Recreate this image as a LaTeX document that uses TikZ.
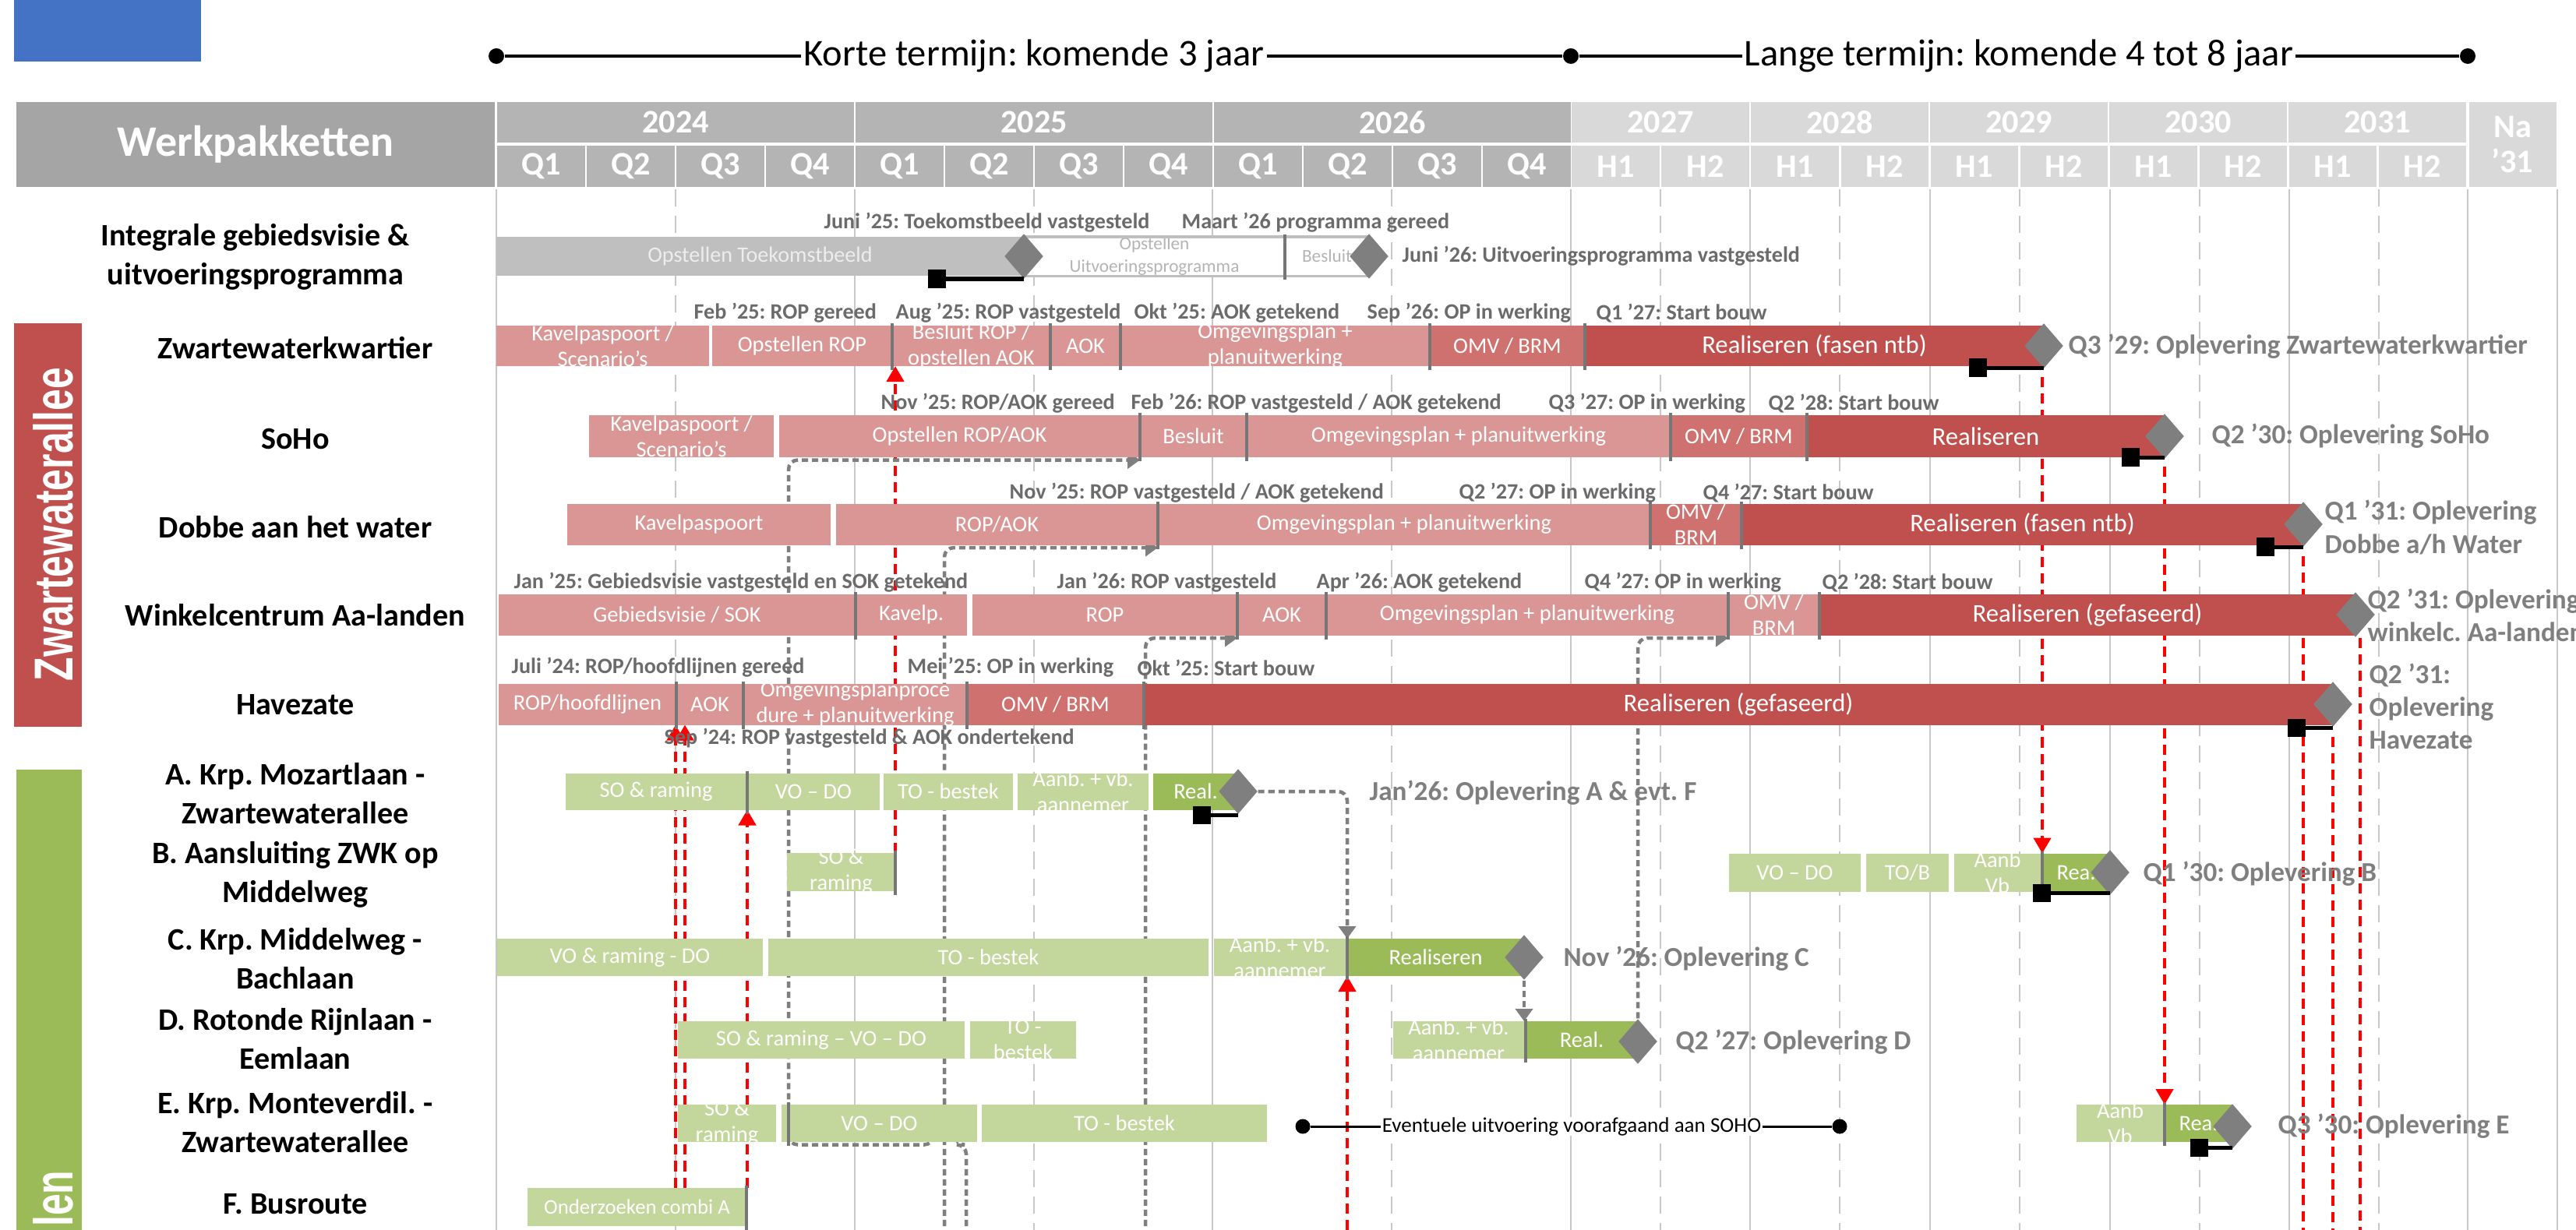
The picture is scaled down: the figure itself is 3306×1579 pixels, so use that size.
\documentclass[tikz,border=0pt]{standalone}
\usepackage{fontspec}
\setmainfont{Carlito}
\newfontfamily\sidefont{Liberation Sans}
\usetikzlibrary{shapes.geometric,arrows.meta}
\frenchspacing

\definecolor{blu}{HTML}{4472C4}
\definecolor{wpgray}{HTML}{A5A5A5}
\definecolor{hdrdark}{HTML}{B4B4B4}
\definecolor{hdrlight}{HTML}{D9D9D9}
\definecolor{gridgray}{HTML}{C8C8C8}
\definecolor{barGray}{HTML}{BFBFBF}
\definecolor{txtlight}{HTML}{EDEDED}
\definecolor{pinkL}{HTML}{DA9694}
\definecolor{pinkM}{HTML}{CF716E}
\definecolor{redD}{HTML}{C0504D}
\definecolor{grnL}{HTML}{C3D69B}
\definecolor{grnD}{HTML}{9BBB59}
\definecolor{msgray}{HTML}{7F7F7F}
\definecolor{labgray}{HTML}{6B6B6B}
\definecolor{divgray}{HTML}{767676}

\pgfdeclarelayer{grid}
\pgfdeclarelayer{links}
\pgfsetlayers{grid,links,main}

\tikzset{
  segbox/.style={rectangle, inner sep=0pt, outer sep=0pt},
  segtxt/.style={inner sep=0pt, text=white, align=center, font=\fontsize{8.1}{9.4}\selectfont},
  bigtxt/.style={font=\fontsize{9.3}{10}\selectfont},
  hdrbox/.style={rectangle, inner sep=0pt, text=white, align=center, font=\bfseries\fontsize{12}{13}\selectfont},
  toptxt/.style={fill=white, inner xsep=0.03cm, inner ysep=0pt, font=\fontsize{13.8}{14}\selectfont},
  rowlab/.style={align=center, inner sep=0pt, font=\bfseries\fontsize{11.4}{14.2}\selectfont},
  mslab/.style={anchor=west, inner sep=0pt, text=labgray, font=\bfseries\fontsize{8}{9}\selectfont},
  oplev/.style={anchor=west, inner sep=0pt, align=left, text=msgray, font=\bfseries\fontsize{10}{12}\selectfont},
  evtxt/.style={fill=white, inner xsep=0.02cm, inner ysep=0pt, font=\fontsize{7.7}{8}\selectfont},
  msdia/.style={diamond, fill=msgray, inner sep=0pt, minimum width=0.5cm, minimum height=0.58cm},
  basesq/.style={rectangle, fill=black, inner sep=0pt, minimum size=0.23cm},
  baseln/.style={black, line width=0.05cm},
  tdot/.style={circle, fill=black, inner sep=0pt, minimum size=0.2cm},
  divln/.style={draw=divgray, line width=0.04cm, shorten <=-0.03cm, shorten >=-0.05cm},
  gridln/.style={gridgray, line width=0.025cm},
  redln/.style={red, line width=0.045cm, dash pattern=on 0.13cm off 0.08cm},
  conn/.style={msgray, line width=0.045cm, dash pattern=on 0.08cm off 0.05cm, rounded corners=0.12cm},
  redtip/.style={-{Triangle[length=0.2cm,width=0.22cm]}},
  conntip/.style={-{Triangle[length=0.16cm,width=0.22cm]}},
  sidelab/.style={text=white, inner sep=0pt, font=\sidefont\bfseries\fontsize{20}{20}\selectfont, rotate=90, xscale=0.71},
}

% bar segment: [text opts]{name}{x1}{x2}{y}{height}{fill}{text}
\newcommand\wpseg[8][]{%
  \node[segbox, fill=#7, minimum width={(#4-#3)*0.01cm}, minimum height={#6*0.01cm}] (#2) at ({(#3+#4)/2},#5) {};
  \node[segtxt, #1] (#2t) at (#2.center) {#8};}

\begin{document}
\begin{tikzpicture}[x=0.01cm, y=-0.01cm]
\useasboundingbox (0,0) rectangle (3306,1579);

% top timeline
\fill[blu] (18,0) rectangle (258,79);
\node[tdot] (t0) at (637,72) {};
\node[tdot] (t1) at (2016,72) {};
\node[tdot] (t2) at (3167,72) {};
\draw[line width=0.035cm] (t0) -- (t1) -- (t2);
\node[toptxt] (kort) at (1327,72) {Korte termijn: komende 3 jaar};
\node[toptxt] (lang) at (2591,72) {Lange termijn: komende 4 tot 8 jaar};

% header
\node[hdrbox, fill=wpgray, minimum width=6.14cm, minimum height=1.09cm, font=\bfseries\fontsize{15.9}{16}\selectfont] (wp) at (328,185.5) {Werkpakketten};
\foreach \yr [count=\i from 0] in {2024,2025,2026}{
  \node[hdrbox, fill=hdrdark, minimum width=4.57cm, minimum height=0.52cm] (y\yr) at ({867+460*\i},157) {\yr};
  \foreach \q in {1,...,4}
    \node[hdrbox, fill=hdrdark, minimum width=1.12cm, minimum height=0.53cm] (q\yr\q) at ({637+460*\i+115*\q-57.5},213.5) {Q\q};
}
\foreach \yr [count=\i from 0] in {2027,...,2031}{
  \node[hdrbox, fill=hdrlight, minimum width=2.27cm, minimum height=0.52cm] (y\yr) at ({2131+230*\i},157) {\yr};
  \foreach \h in {1,2}
    \node[hdrbox, fill=hdrlight, minimum width=1.12cm, minimum height=0.53cm] (h\yr\h) at ({2016+230*\i+115*\h-57.5},213.5) {H\h};
}
\node[hdrbox, fill=hdrlight, minimum width=1.12cm, minimum height=1.09cm] (na) at (3224.5,185.5) {Na\\'31};

% side boxes
\fill[redD] (18,415) rectangle (105,933);
\begin{scope}[shift={(68,673)}]
  \node[sidelab] (zwlab) at (0,0) {Zwartewaterallee};
\end{scope}
\fill[grnD] (21,988) rectangle (105,1600);
\begin{scope}[shift={(68,1502)}]
  \node[sidelab, anchor=east] (wglab) at (0,0) {len};
\end{scope}

% row labels
\node[rowlab] (r0) at (328,330) {Integrale gebiedsvisie \&\\uitvoeringsprogramma};
\node[rowlab] (r1) at (379,447) {Zwartewaterkwartier};
\node[rowlab] (r2) at (379,563) {SoHo};
\node[rowlab] (r3) at (379,677) {Dobbe aan het water};
\node[rowlab] (r4) at (379,790) {Winkelcentrum Aa-landen};
\node[rowlab] (r5) at (379,905) {Havezate};
\node[rowlab] (r6) at (379,1019) {A. Krp. Mozartlaan -\\Zwartewaterallee};
\node[rowlab] (r7) at (379,1123) {B. Aansluiting ZWK op\\Middelweg};
\node[rowlab] (r8) at (379,1231) {C. Krp. Middelweg -\\Bachlaan};
\node[rowlab] (r9) at (379,1334) {D. Rotonde Rijnlaan -\\Eemlaan};
\node[rowlab] (r10) at (379,1441) {E. Krp. Monteverdil. -\\Zwartewaterallee};
\node[rowlab] (r11) at (379,1546) {F. Busroute};

% Integrale gebiedsvisie
\wpseg[text=txtlight, font=\fontsize{8}{9}\selectfont]{in0}{637}{1314}{329}{50}{barGray}{Opstellen Toekomstbeeld}
\wpseg[text=hdrdark, font=\fontsize{6.6}{8.4}\selectfont]{in1}{1314}{1649}{329}{50}{white}{Opstellen\\Uitvoeringsprogramma}
\wpseg[text=hdrdark, font=\fontsize{6.6}{8.4}\selectfont]{in2}{1649}{1757}{329}{50}{white}{Besluit}
\draw[barGray, line width=0.03cm] (in1.north west) rectangle (in2.south east);

% Zwartewaterkwartier
\wpseg{zk1}{637}{910}{444}{52}{pinkL}{Kavelpaspoort /\\Scenario's}
\wpseg{zk2}{914}{1145}{444}{52}{pinkL}{Opstellen ROP}
\wpseg{zk3}{1145}{1348}{444}{52}{pinkL}{Besluit ROP /\\opstellen AOK}
\wpseg{zk4}{1348}{1438}{444}{52}{pinkL}{AOK}
\wpseg{zk5}{1438}{1835}{444}{52}{pinkL}{Omgevingsplan +\\planuitwerking}
\wpseg{zk6}{1835}{2034}{444}{52}{pinkM}{OMV / BRM}
\wpseg[bigtxt]{zk7}{2034}{2623}{444}{52}{redD}{Realiseren (fasen ntb)}

% SoHo
\wpseg{so1}{756}{993}{560}{54}{pinkL}{Kavelpaspoort /\\Scenario's}
\wpseg{so2}{1000}{1463}{560}{54}{pinkL}{Opstellen ROP/AOK}
\wpseg{so3}{1463}{1600}{560}{54}{pinkL}{Besluit}
\wpseg{so4}{1600}{2144}{560}{54}{pinkL}{Omgevingsplan + planuitwerking}
\wpseg{so5}{2144}{2319}{560}{54}{pinkM}{OMV / BRM}
\wpseg[bigtxt]{so6}{2319}{2778}{560}{54}{redD}{Realiseren}

% Dobbe aan het water
\wpseg{do1}{728}{1066}{673}{53}{pinkL}{Kavelpaspoort}
\wpseg{do2}{1073}{1486}{673}{53}{pinkL}{ROP/AOK}
\wpseg{do3}{1486}{2118}{673}{53}{pinkL}{Omgevingsplan + planuitwerking}
\wpseg{do4}{2118}{2235}{673}{53}{pinkM}{OMV /\\BRM}
\wpseg[bigtxt]{do5}{2235}{2956}{673}{53}{redD}{Realiseren (fasen ntb)}

% Winkelcentrum Aa-landen
\wpseg{wc1}{640}{1098}{789}{53}{pinkL}{Gebiedsvisie / SOK}
\wpseg{wc2}{1098}{1241}{789}{53}{pinkL}{Kavelp.}
\wpseg{wc3}{1248}{1588}{789}{53}{pinkL}{ROP}
\wpseg{wc4}{1588}{1702}{789}{53}{pinkL}{AOK}
\wpseg{wc5}{1702}{2218}{789}{53}{pinkL}{Omgevingsplan + planuitwerking}
\wpseg{wc6}{2218}{2335}{789}{53}{pinkL}{OMV /\\BRM}
\wpseg[bigtxt]{wc7}{2335}{3023}{789}{53}{redD}{Realiseren (gefaseerd)}

% Havezate
\wpseg{hz1}{640}{868}{904}{53}{pinkL}{ROP/hoofdlijnen}
\wpseg{hz2}{868}{954}{904}{53}{pinkL}{AOK}
\wpseg{hz3}{954}{1241}{904}{53}{pinkL}{Omgevingsplanproce\\dure + planuitwerking}
\wpseg{hz4}{1241}{1468}{904}{53}{pinkM}{OMV / BRM}
\wpseg[bigtxt]{hz5}{1468}{2994}{904}{53}{redD}{Realiseren (gefaseerd)}

% A
\wpseg{a1}{726}{958}{1016}{47}{grnL}{SO \& raming}
\wpseg{a2}{959}{1129}{1016}{47}{grnL}{VO -- DO}
\wpseg{a3}{1134}{1300}{1016}{47}{grnL}{TO - bestek}
\wpseg{a4}{1306}{1474}{1016}{47}{grnL}{Aanb. + vb.\\aannemer}
\wpseg{a5}{1480}{1589}{1016}{47}{grnD}{Real.}

% B
\wpseg{b1}{1010}{1149}{1119}{49}{grnL}{SO \&\\raming}
\wpseg{b2}{2219}{2388}{1120}{49}{grnL}{VO -- DO}
\wpseg{b3}{2395}{2501}{1120}{49}{grnL}{TO/B}
\wpseg{b4}{2508}{2619}{1120}{49}{grnL}{Aanb\\Vb}
\wpseg{b5}{2621}{2708}{1120}{49}{grnD}{Rea.}

% C
\wpseg{c1}{638}{979}{1229}{48}{grnL}{VO \& raming - DO}
\wpseg{c2}{986}{1551}{1229}{48}{grnL}{TO - bestek}
\wpseg{c3}{1558}{1727}{1229}{48}{grnL}{Aanb. + vb.\\aannemer}
\wpseg{c4}{1729}{1956}{1229}{48}{grnD}{Realiseren}

% D
\wpseg{d1}{870}{1238}{1335}{48}{grnL}{SO \& raming -- VO -- DO}
\wpseg{d2}{1245}{1381}{1335}{48}{grnL}{TO -\\bestek}
\wpseg{d3}{1788}{1956}{1335}{48}{grnL}{Aanb. + vb.\\aannemer}
\wpseg{d4}{1958}{2102}{1335}{48}{grnD}{Real.}

% E
\wpseg{e1}{870}{996}{1442}{48}{grnL}{SO \&\\raming}
\wpseg{e2}{1003}{1254}{1442}{48}{grnL}{VO -- DO}
\wpseg{e3}{1260}{1626}{1442}{48}{grnL}{TO - bestek}
\wpseg{e4}{2665}{2777}{1442}{48}{grnL}{Aanb\\Vb}
\wpseg{e5}{2778}{2865}{1442}{48}{grnD}{Rea.}

% F
\wpseg[font=\fontsize{7.6}{8}\selectfont]{f1}{677}{958}{1549}{49}{grnL}{Onderzoeken combi A}

% milestone dividers
\foreach \n in {in2,zk3,zk4,zk5,zk6,zk7,so3,so4,so5,so6,do3,do4,do5,wc2,wc4,wc5,wc6,wc7,hz2,hz3,hz4,hz5,a2,b5,c4,d4,e5}
  \draw[divln] (\n.north west) -- (\n.south west);
\draw[divln] (b1.north east) -- (b1.south east);
\coordinate (ediv) at (1012,1442);
\draw[divln] (ediv |- e2.north) -- (ediv |- e2.south);
\draw[divln] (f1.north east) -- (f1.east |- 0,1579);

% diamonds
\node[msdia] (ind1) at (1314,329) {};
\node[msdia] (ind2) at (1757,329) {};
\node[msdia] (zkd) at (2623,444) {};
\node[msdia] (sod) at (2778,560) {};
\node[msdia] (dod) at (2956,673) {};
\node[msdia] (wcd) at (3023,789) {};
\node[msdia] (hzd) at (2994,904) {};
\node[msdia] (ad) at (1589,1016) {};
\node[msdia] (bd) at (2708,1120) {};
\node[msdia] (cd) at (1956,1229) {};
\node[msdia] (dd) at (2102,1337) {};
\node[msdia] (ed) at (2865,1446) {};

% baseline markers
\node[basesq] (inq) at (1202,358) {};
\draw[baseln] (inq) -- (inq -| ind1);
\node[basesq] (zkq) at (2538,472) {};
\draw[baseln] (zkq) -- (zkq -| zkd);
\node[basesq] (soq) at (2734,587) {};
\draw[baseln] (soq) -- (soq -| sod);
\node[basesq] (doq) at (2907,702) {};
\draw[baseln] (doq) -- (doq -| dod);
\node[basesq] (hzq) at (2947,934) {};
\draw[baseln] (hzq) -- (hzq -| hzd);
\node[basesq] (aq) at (1542,1046) {};
\draw[baseln] (aq) -- (aq -| ad);
\node[basesq] (bq) at (2620,1146) {};
\draw[baseln] (bq) -- (bq -| bd);
\node[basesq] (eq) at (2822,1473) {};
\draw[baseln] (eq) -- (eq -| ed);

% milestone texts
\node[mslab] (m1) at (1057,286) {Juni '25: Toekomstbeeld vastgesteld};
\node[mslab] (m2) at (1516,286) {Maart '26 programma gereed};
\node[mslab] (m3) at (1799,329) {Juni '26: Uitvoeringsprogramma vastgesteld};
\node[mslab] (m4) at (890,402) {Feb '25: ROP gereed};
\node[mslab] (m5) at (1149,402) {Aug '25: ROP vastgesteld};
\node[mslab] (m6) at (1455,402) {Okt '25: AOK getekend};
\node[mslab] (m7) at (1754,402) {Sep '26: OP in werking};
\node[mslab] (m8) at (2048,402) {Q1 '27: Start bouw};
\node[mslab] (m9) at (1130,518) {Nov '25: ROP/AOK gereed};
\node[mslab] (m10) at (1451,518) {Feb '26: ROP vastgesteld / AOK getekend};
\node[mslab] (m11) at (1987,518) {Q3 '27: OP in werking};
\node[mslab] (m12) at (2269,518) {Q2 '28: Start bouw};
\node[mslab] (m13) at (1295,633) {Nov '25: ROP vastgesteld / AOK getekend};
\node[mslab] (m14) at (1872,633) {Q2 '27: OP in werking};
\node[mslab] (m15) at (2185,633) {Q4 '27: Start bouw};
\node[mslab] (m16) at (659,748) {Jan '25: Gebiedsvisie vastgesteld en SOK getekend};
\node[mslab] (m17) at (1356,748) {Jan '26: ROP vastgesteld};
\node[mslab] (m18) at (1689,748) {Apr '26: AOK getekend};
\node[mslab] (m19) at (2033,748) {Q4 '27: OP in werking};
\node[mslab] (m20) at (2338,748) {Q2 '28: Start bouw};
\node[mslab] (m21) at (656,857) {Juli '24: ROP/hoofdlijnen gereed};
\node[mslab] (m22) at (1164,857) {Mei '25: OP in werking};
\node[mslab] (m23) at (1459,857) {Okt '25: Start bouw};
\node[mslab] (m24) at (852,948) {Sep '24: ROP vastgesteld \& AOK ondertekend};

% oplevering texts
\node[oplev] (o1) at (2654,445) {Q3 '29: Oplevering Zwartewaterkwartier};
\node[oplev] (o2) at (2838,560) {Q2 '30: Oplevering SoHo};
\node[oplev] (o3) at (2983,677) {Q1 '31: Oplevering\\Dobbe a/h Water};
\node[oplev] (o4) at (3038,790) {Q2 '31: Oplevering\\winkelc. Aa-landen};
\node[oplev] (o5) at (3040,907) {Q2 '31:\\Oplevering\\Havezate};
\node[oplev] (o6) at (1757,1018) {Jan'26: Oplevering A \& evt. F};
\node[oplev] (o7) at (2750,1122) {Q1 '30: Oplevering B};
\node[oplev] (o8) at (2006,1231) {Nov '26: Oplevering C};
\node[oplev] (o9) at (2150,1338) {Q2 '27: Oplevering D};
\node[oplev] (o10) at (2923,1446) {Q3 '30: Oplevering E};

% optional early execution E
\node[tdot, minimum size=0.19cm] (ev1) at (1672,1446) {};
\node[tdot, minimum size=0.19cm] (ev2) at (2361,1446) {};
\draw[line width=0.03cm] (ev1) -- (ev2);
\node[evtxt] (evt) at (2017,1446) {Eventuele uitvoering voorafgaand aan SOHO};

% free ends and offsets for links
\coordinate (bot) at (0,1600);
\coordinate (g1s) at (1240,1600);
\coordinate (g2s) at (1212,1600);
\coordinate (g3s) at (1470,1600);
\coordinate (eb) at ([yshift=-0.035cm]e2.south);
\coordinate (sob) at ([yshift=-0.035cm]so3.south west);
\coordinate (dob) at ([yshift=-0.035cm]do2.south east);
\coordinate (wcb) at ([yshift=-0.035cm]wc4.south west);
\coordinate (wc6b) at ([yshift=-0.035cm]wc6.south west);

\begin{pgfonlayer}{grid}
  \fill[white] (0,0) rectangle (3306,1579);
  \foreach \x in {637,1097,1556,2016,2246,2477,2708,2938,3167,3282}
    \draw[gridln] (\x,243) -- (\x,1579);
  \foreach \x in {867,1327,1786,2131,2361,2592,2823,3053}
    \draw[gridln, dash pattern=on 0.22cm off 0.12cm] (\x,243) -- (\x,1579);
\end{pgfonlayer}

\begin{pgfonlayer}{links}
  % red dependencies
  \draw[redln, redtip] (b1.north east) -- (b1.north east |- zk3.south);
  \draw[redln, redtip] (b5.north west |- zkq.south) -- (b5.north west);
  \draw[redln, redtip] (e5.north west |- soq.south) -- (e5.north west);
  \draw[redln] (dod.center |- doq.south) -- (dod |- bot);
  \draw[redln] ([xshift=0.06cm]wcd.south) -- ([xshift=0.06cm]wcd.center |- bot);
  \draw[redln] (hzd.center |- hzq.south) -- (hzd |- bot);
  \draw[redln, redtip] ([xshift=-0.01cm]hz2.south west |- f1.north) -- ([xshift=-0.01cm]hz2.south west);
  \draw[redln, redtip] ([xshift=0.11cm]hz2.south west |- f1.north) -- ([xshift=0.11cm]hz2.south west);
  \draw[redln, redtip] (a2.south west |- f1.north) -- (a2.south west);
  \draw[redln, redtip] (c4.south west |- bot) -- (c4.south west);
  % grey links
  \draw[conn, conntip] (g1s) -- (g1s |- eb) -- ([xshift=0.14cm]g2s |- eb)
    arc[start angle=0, end angle=-180, radius=14] -- (ediv |- eb) -- (ediv |- sob) -- (sob);
  \draw[conn, conntip] (g2s) |- (dob);
  \draw[conn, conntip] (g3s) |- (wcb);
  \draw[conn, conntip] (dd.north) |- (wc6b);
  \draw[conn, conntip] (ad.east) -| (c4.north west);
  \draw[conn, conntip] (cd.south) -- (cd.south |- d4.north);
\end{pgfonlayer}

\end{tikzpicture}
\end{document}
